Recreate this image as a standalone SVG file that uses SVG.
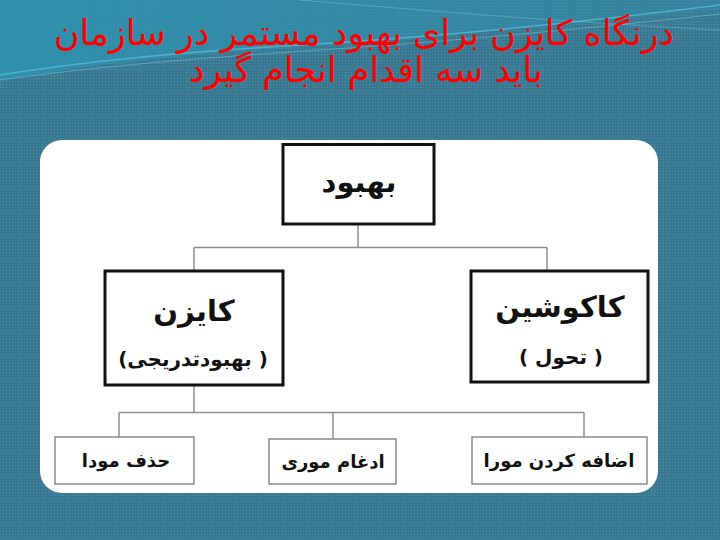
<svg xmlns="http://www.w3.org/2000/svg" width="720" height="540" viewBox="0 0 720 540">
  <defs>
    <pattern id="tex" width="3" height="3" patternUnits="userSpaceOnUse">
      <rect width="3" height="3" fill="#3b7c94"/>
      <rect width="1" height="1" fill="#4a8ca4"/>
      <rect x="1.5" y="1.5" width="1" height="1" fill="#326d84"/>
    </pattern>
    <linearGradient id="wave" x1="0" y1="0" x2="1" y2="0">
      <stop offset="0" stop-color="#2a9ab8" stop-opacity="0.9"/>
      <stop offset="1" stop-color="#2f8fac" stop-opacity="0.5"/>
    </linearGradient>
    <style>
      .title { font-family: "DejaVu Sans", "Noto Sans", sans-serif; font-size: 35px; fill: #ff0000; }
      .main { font-family: "DejaVu Sans", "Noto Sans", sans-serif; font-weight: bold; fill: #111; }
      .big { font-size: 29px; }
      .sub { font-size: 20px; }
      .small { font-size: 18px; }
      .box { fill: #ffffff; stroke: #111; stroke-width: 3; }
      .leaf { fill: #ffffff; stroke: #8a8a8a; stroke-width: 1.5; }
      .conn { fill: none; stroke: #8f8f8f; stroke-width: 1.5; }
    </style>
  </defs>

  <!-- background -->
  <rect width="720" height="540" fill="url(#tex)"/>
  <path d="M0,0 H720 V10 C600,20 420,40 260,50 C150,57 60,70 0,80 Z" fill="url(#wave)" opacity="0.75"/>
  <path d="M0,75 C80,62 180,52 300,45 C450,36 600,20 720,5" fill="none" stroke="#5cc0dc" stroke-width="1.5" opacity="0.7"/>
  <path d="M0,80 C100,66 200,58 320,50 C470,40 610,26 720,14" fill="none" stroke="#6fcbe3" stroke-width="1" opacity="0.5"/>
  <path d="M300,0 C420,10 560,22 720,30" fill="none" stroke="#7fd0e6" stroke-width="1" opacity="0.4"/>

  <!-- title -->
  <g id="title">
    <text class="title" x="364" y="45" text-anchor="middle" direction="rtl">درنگاه کایزن برای بهبود مستمر در سازمان</text>
    <text class="title" x="366" y="82" text-anchor="middle" direction="rtl">باید سه اقدام انجام گیرد</text>
  </g>

  <!-- white panel -->
  <rect x="40" y="140" width="618" height="353" rx="22" ry="22" fill="#ffffff"/>

  <!-- connectors -->
  <g id="connectors">
    <path class="conn" d="M358,224 V247.5 M194,247.5 H547 M194,247.5 V271 M547,247.5 V271"/>
    <path class="conn" d="M194,385 V412.5 M119,412.5 H584 M119,412.5 V437 M333,412.5 V439 M584,412.5 V437"/>
  </g>

  <g id="node-behbood">
    <rect class="box" x="283" y="144.5" width="151" height="79.5"/>
    <text class="main big" x="359" y="192" text-anchor="middle" direction="rtl">بهبود</text>
  </g>

  <g id="node-kaizen">
    <rect class="box" x="105" y="271" width="178" height="114"/>
    <text class="main big" x="194" y="321" text-anchor="middle" direction="rtl">کایزن</text>
    <text class="main sub" x="193" y="366" text-anchor="middle" direction="rtl">( بهبودتدریجی)</text>
  </g>

  <g id="node-kakushin">
    <rect class="box" x="471" y="271" width="177" height="111"/>
    <text class="main big" x="560" y="317" text-anchor="middle" direction="rtl">کاکوشین</text>
    <text class="main sub" x="561" y="364" text-anchor="middle" direction="rtl">( تحول )</text>
  </g>

  <g id="node-hazf">
    <rect class="leaf" x="55" y="437" width="139" height="47"/>
    <text class="main small" x="126" y="467" text-anchor="middle" direction="rtl">حذف مودا</text>
  </g>

  <g id="node-edgham">
    <rect class="leaf" x="269" y="439" width="127" height="45"/>
    <text class="main small" x="333" y="468" text-anchor="middle" direction="rtl">ادغام موری</text>
  </g>

  <g id="node-ezafe">
    <rect class="leaf" x="472" y="437" width="175" height="47"/>
    <text class="main small" x="559" y="467" text-anchor="middle" direction="rtl">اضافه کردن مورا</text>
  </g>
</svg>
